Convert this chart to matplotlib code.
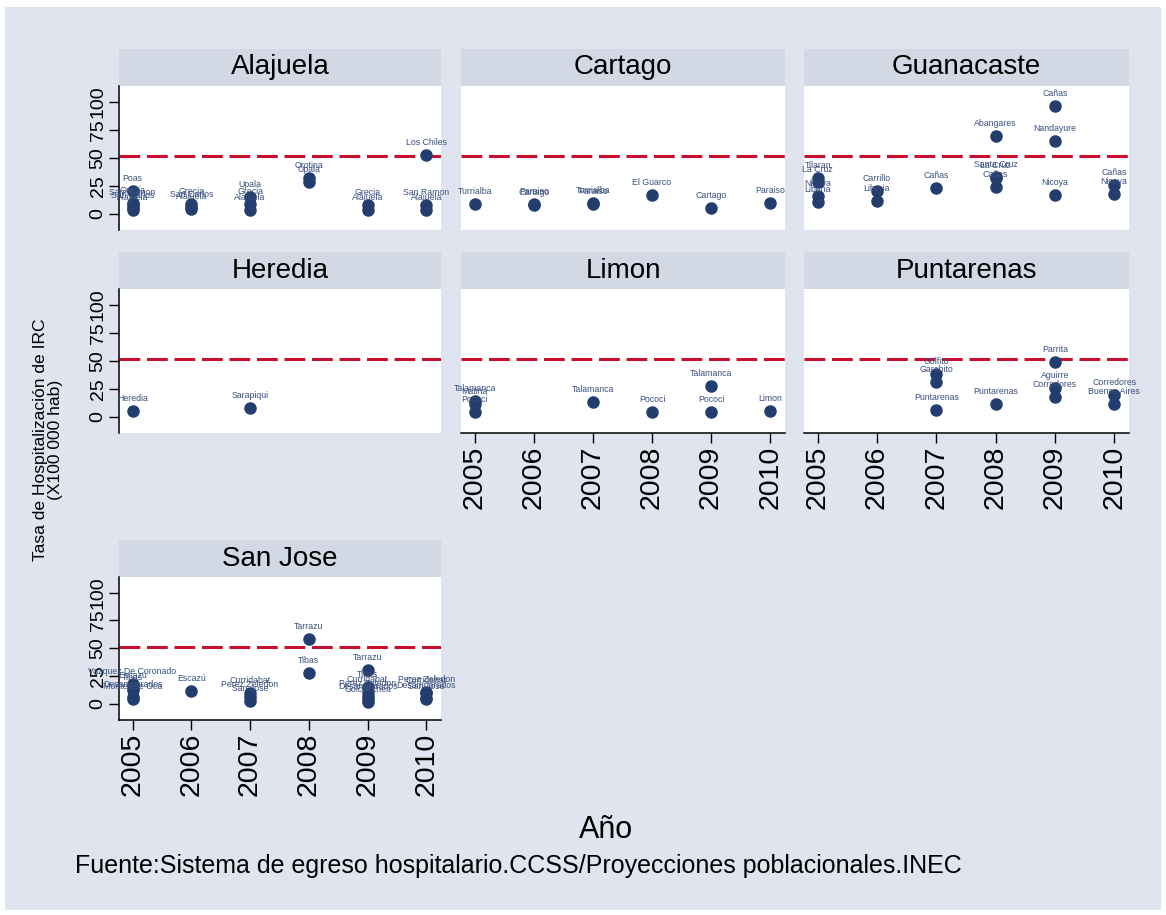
import matplotlib.pyplot as plt
from matplotlib.patches import Rectangle

plt.rcParams['font.family'] = ['Liberation Sans', 'DejaVu Sans']

# --- data: hospitalisation rate for IRC per 100 000 inhabitants, by canton ---
threshold = 51.5
years = [2005, 2006, 2007, 2008, 2009, 2010]

alajuela_year = [2005, 2005, 2005, 2005, 2005, 2006, 2006, 2006, 2007, 2007, 2007,
                 2008, 2008, 2009, 2009, 2010, 2010, 2010]
alajuela_rate = [20, 9.5, 7.5, 5, 3.5, 8.5, 6, 4.5, 15, 9, 3,
                 32, 28, 8, 3, 52, 8, 3]
alajuela_name = ['Poas', 'Grecia', 'San Ramon', 'San Carlos', 'Alajuela',
                 'Grecia', 'San Carlos', 'Alajuela', 'Upala', 'Grecia', 'Alajuela',
                 'Orotina', 'Upala', 'Grecia', 'Alajuela',
                 'Los Chiles', 'San Ramon', 'Alajuela']

cartago_year = [2005, 2006, 2006, 2007, 2007, 2008, 2009, 2010]
cartago_rate = [9, 8.5, 8.2, 9.2, 9, 16.3, 5, 9.8]
cartago_name = ['Turrialba', 'Paraiso', 'Cartago', 'Turrialba', 'Paraiso',
                'El Guarco', 'Cartago', 'Paraiso']

guanacaste_year = [2005, 2005, 2005, 2005, 2006, 2006, 2007, 2008, 2008, 2008,
                   2008, 2009, 2009, 2009, 2010, 2010]
guanacaste_rate = [32, 28, 16, 10.5, 20, 11.5, 23, 69, 32.5, 31.5, 24,
                   96, 64.5, 17, 26, 18]
guanacaste_name = ['Tilaran', 'La Cruz', 'Nicoya', 'Liberia', 'Carrillo', 'Liberia',
                   'Cañas', 'Abangares', 'Santa Cruz', 'La Cruz', 'Cañas',
                   'Cañas', 'Nandayure', 'Nicoya', 'Cañas', 'Nicoya']

heredia_year = [2005, 2007]
heredia_rate = [5.3, 7.5]
heredia_name = ['Heredia', 'Sarapiqui']

limon_year = [2005, 2005, 2005, 2007, 2008, 2009, 2009, 2010]
limon_rate = [14.5, 11.5, 4, 13.3, 3.9, 27.3, 3.9, 5.4]
limon_name = ['Talamanca', 'Matina', 'Pococi', 'Talamanca', 'Pococi',
              'Talamanca', 'Pococi', 'Limon']

puntarenas_year = [2007, 2007, 2007, 2008, 2009, 2009, 2009, 2010, 2010]
puntarenas_rate = [38, 31.3, 6, 11.3, 49, 25.3, 18, 19.5, 11.5]
puntarenas_name = ['Golfito', 'Garabito', 'Puntarenas', 'Puntarenas', 'Parrita',
                   'Aguirre', 'Corredores', 'Corredores', 'Buenos Aires']

sanjose_year = [2005, 2005, 2005, 2005, 2005, 2006, 2007, 2007, 2007, 2008, 2008,
                2009, 2009, 2009, 2009, 2009, 2009, 2010, 2010, 2010, 2010]
sanjose_rate = [18, 14, 12.5, 6, 4, 11.2, 10, 6, 2.5, 58.7, 27.6,
                30.5, 15, 11, 7, 4, 2, 11, 10, 5, 4]
sanjose_name = ['Vazquez De Coronado', 'Escazú', 'Tibas', 'Desamparados',
                'Montes de Oca', 'Escazú', 'Curridabat', 'Perez Zeledon', 'San Jose',
                'Tarrazu', 'Tibas', 'Tarrazu', 'Tibas', 'Curridabat', 'Perez Zeledon',
                'Desamparados', 'Goicoechea', 'Perez Zeledon', 'Curridabat',
                'Desamparados', 'San Jose']

regions = [
    ('Alajuela', alajuela_year, alajuela_rate, alajuela_name),
    ('Cartago', cartago_year, cartago_rate, cartago_name),
    ('Guanacaste', guanacaste_year, guanacaste_rate, guanacaste_name),
    ('Heredia', heredia_year, heredia_rate, heredia_name),
    ('Limon', limon_year, limon_rate, limon_name),
    ('Puntarenas', puntarenas_year, puntarenas_rate, puntarenas_name),
    ('San Jose', sanjose_year, sanjose_rate, sanjose_name),
]

# --- styling ---
W, H = 1166, 915
bg = '#E0E4EF'
strip_bg = '#D2D8E4'
navy = '#233E6E'
label_col = '#3A4F7E'
red = '#C8102E'

fig = plt.figure(figsize=(W / 100, H / 100), dpi=100, facecolor='white')
fig.patches.append(Rectangle((5 / W, 5 / H), 1 - 10 / W, 1 - 12 / H,
                             transform=fig.transFigure, facecolor=bg,
                             edgecolor='none', zorder=-10))

cols = [(119, 441), (461, 785), (804, 1129)]
rows = [(86, 230), (289, 433), (577, 720)]
strip_h = 37


def px_axes(x0, y0, x1, y1):
    return fig.add_axes([x0 / W, 1 - y1 / H, (x1 - x0) / W, (y1 - y0) / H])


bottom_panels = {'Limon', 'Puntarenas', 'San Jose'}

for i, (title, yr, rate, name) in enumerate(regions):
    r, c = divmod(i, 3)
    x0, x1 = cols[c]
    y0, y1 = rows[r]

    # strip with region name
    sax = px_axes(x0, y0 - strip_h, x1, y0)
    sax.set_facecolor(strip_bg)
    sax.set_xticks([])
    sax.set_yticks([])
    for s in sax.spines.values():
        s.set_visible(False)
    sax.text(0.5, 0.5, title, ha='center', va='center', fontsize=20,
             transform=sax.transAxes)

    ax = px_axes(x0, y0, x1, y1)
    ax.set_facecolor('white')
    ax.set_xlim(2004.77, 2010.25)
    ax.set_ylim(-14.5, 114)

    ax.axhline(threshold, color=red, lw=2.2, linestyle=(0, (6.8, 2.2)), zorder=1)
    ax.plot(yr, rate, 'o', ms=8, color=navy, zorder=3)
    for xv, yv, nm in zip(yr, rate, name):
        ax.annotate(nm, (xv, yv), xytext=(0, 9), textcoords='offset points',
                    ha='center', va='center', fontsize=6.3, color=label_col, zorder=4)

    for s in ['top', 'right']:
        ax.spines[s].set_visible(False)
    ax.spines['left'].set_visible(c == 0)
    ax.spines['bottom'].set_visible(title in bottom_panels)
    for s in ['left', 'bottom']:
        ax.spines[s].set_linewidth(1.1)

    if c == 0:
        ax.set_yticks([0, 25, 50, 75, 100])
        ax.tick_params(axis='y', length=7, width=1, labelsize=14, pad=2)
        for lab in ax.get_yticklabels():
            lab.set_rotation(90)
            lab.set_va('center')
    else:
        ax.set_yticks([])

    if title in bottom_panels:
        ax.set_xticks(years)
        ax.set_xticklabels([str(y) for y in years], rotation=90, fontsize=20.5)
        ax.tick_params(axis='x', length=7, width=1, pad=2)
    else:
        ax.set_xticks([])

fig.text(48 / W, 1 - 440 / H, 'Tasa de Hospitalización de IRC\n(X100 000 hab)',
         rotation=90, ha='center', va='center', fontsize=12.6,
         multialignment='center', linespacing=0.95)
fig.text(606 / W, 1 - 830 / H, 'Año', ha='center', va='center', fontsize=22)
fig.text(75 / W, 1 - 866 / H,
         'Fuente:Sistema de egreso hospitalario.CCSS/Proyecciones poblacionales.INEC',
         ha='left', va='center', fontsize=18)

fig.savefig('out.png', dpi=100, facecolor=fig.get_facecolor())
